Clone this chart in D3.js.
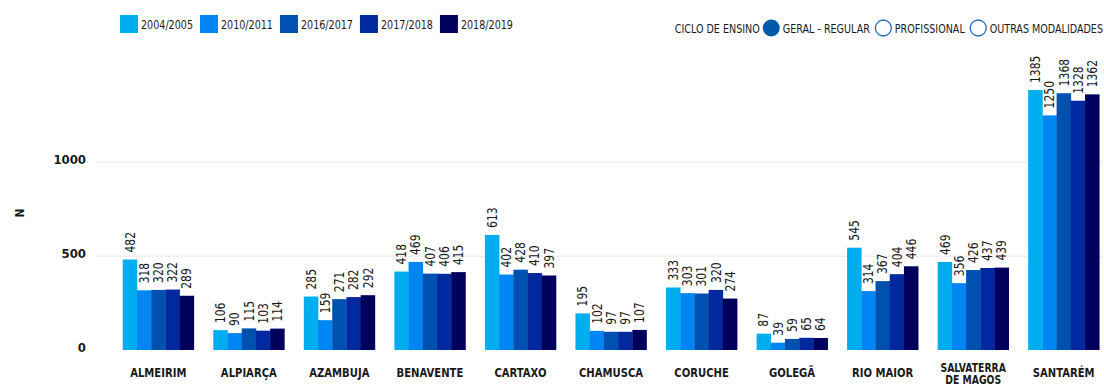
<!DOCTYPE html>
<html>
<head>
<meta charset="utf-8">
<script src="https://cdn.jsdelivr.net/npm/d3@7/dist/d3.min.js"></script>
<style>
  html, body { margin: 0; padding: 0; background: #fff; }
  svg { display: block; }
  text { font-family: "DejaVu Sans Condensed", "DejaVu Sans", sans-serif; fill: #1a1a1a; }
</style>
</head>
<body>
<svg id="chart" width="1104" height="387"></svg>
<script>
// Students enrolled by municipality, five school years
const categories = ["ALMEIRIM", "ALPIARÇA", "AZAMBUJA", "BENAVENTE", "CARTAXO", "CHAMUSCA",
  "CORUCHE", "GOLEGÃ", "RIO MAIOR", "SALVATERRA DE MAGOS", "SANTARÉM"];
const years = ["2004/2005", "2010/2011", "2016/2017", "2017/2018", "2018/2019"];
const v2004 = [482, 106, 285, 418, 613, 195, 333, 87, 545, 469, 1385];
const v2010 = [318, 90, 159, 469, 402, 102, 303, 39, 314, 356, 1250];
const v2016 = [320, 115, 271, 407, 428, 97, 301, 59, 367, 426, 1368];
const v2017 = [322, 103, 282, 406, 410, 97, 320, 65, 404, 437, 1328];
const v2018 = [289, 114, 292, 415, 397, 107, 274, 64, 446, 439, 1362];
const yTicks = [0, 500, 1000];
const cycleLabel = "CICLO DE ENSINO";
const cycles = ["GERAL - REGULAR", "PROFISSIONAL", "OUTRAS MODALIDADES"];

const seriesValues = [v2004, v2010, v2016, v2017, v2018];
const colors = ["#00aeef", "#0086f2", "#0050b0", "#00289f", "#00005c"];

const svg = d3.select("#chart");

const x0 = d3.scaleBand().domain(categories).range([113, 1109])
  .paddingInner(0.215).paddingOuter(0.1075);
const x1 = d3.scaleBand().domain(years).range([0, x0.bandwidth()]);
const y = d3.scaleLinear().domain([0, 1000]).range([350, 162.3]);
const color = d3.scaleOrdinal().domain(years).range(colors);

// horizontally condensed text placed at (x, y)
function condensed(parent, x, yPos, sx, size, weight, anchor) {
  return parent.append("text")
    .attr("transform", `translate(${x},${yPos}) scale(${sx},1)`)
    .attr("text-anchor", anchor || "start").attr("dy", "0.35em")
    .style("font-size", size + "px").style("font-weight", weight || "normal");
}

// faint dotted gridlines
svg.append("g").selectAll("line").data(yTicks.filter(d => d > 0)).join("line")
  .attr("x1", 96).attr("x2", 1104)
  .attr("y1", d => y(d)).attr("y2", d => y(d))
  .attr("stroke", "#ececec").attr("stroke-width", 1.5).attr("stroke-dasharray", "3,1");

// y axis tick labels
const yAxis = svg.append("g").attr("transform", "translate(86,-2.5)")
  .call(d3.axisLeft(y).tickValues(yTicks).tickSize(0).tickPadding(0).tickFormat(d3.format("d")));
yAxis.select(".domain").remove();
yAxis.selectAll("text").style("font-size", "13px").style("font-weight", "bold")
  .style("font-family", "'DejaVu Sans Condensed','DejaVu Sans',sans-serif").attr("fill", "#1a1a1a");

svg.append("text").attr("transform", "translate(20,213) rotate(-90)")
  .attr("text-anchor", "middle").attr("dy", "0.35em")
  .style("font-size", "12px").style("font-weight", "bold").text("N");

// bars
const rows = categories.map((c, i) => ({ cat: c, vals: years.map((yr, k) => ({ year: yr, value: seriesValues[k][i] })) }));
const groups = svg.append("g").selectAll("g").data(rows).join("g")
  .attr("transform", d => `translate(${x0(d.cat)},0)`);

groups.selectAll("rect").data(d => d.vals).join("rect")
  .attr("x", d => x1(d.year)).attr("width", x1.bandwidth() + 0.3)
  .attr("y", d => y(d.value)).attr("height", d => y(0) - y(d.value))
  .attr("fill", d => color(d.year));

// value labels, vertical
groups.selectAll("text.val").data(d => d.vals).join("text").attr("class", "val")
  .attr("transform", d => `translate(${x1(d.year) + x1.bandwidth() / 2},${y(d.value) - 7}) rotate(-90) scale(0.92,1.05)`)
  .attr("dy", "0.35em").attr("text-anchor", "start")
  .style("font-size", "13px").text(d => d.value);

// category labels, wrapped to two lines when too wide
const catG = svg.append("g");
categories.forEach(d => {
  const cx = x0(d) + x0.bandwidth() / 2;
  const probe = condensed(catG, cx, 0, 0.86, 13, "bold", "middle").text(d);
  const tooWide = probe.node().getComputedTextLength() * 0.86 > 90;
  probe.remove();
  if (!tooWide) {
    condensed(catG, cx, 372, 0.86, 13, "bold", "middle").text(d);
  } else {
    const words = d.split(" ");
    const first = words[0], rest = words.slice(1).join(" ");
    condensed(catG, cx, 367.5, 0.86, 12, "bold", "middle").text(first);
    condensed(catG, cx, 379.5, 0.86, 12, "bold", "middle").text(rest);
  }
});

// year legend
const legL = svg.append("g");
const sxL = 0.82;
let lx = 120;
years.forEach(yr => {
  legL.append("rect").attr("x", lx).attr("y", 15).attr("width", 18).attr("height", 18).attr("fill", color(yr));
  const t = condensed(legL, lx + 21, 24.5, sxL, 13).text(yr);
  lx += 21 + t.node().getComputedTextLength() * sxL + 7;
});

// teaching cycle legend, right aligned
const legR = svg.append("g");
const sxR = 0.82;
const items = [cycleLabel].concat(cycles);
const widths = items.map(s => {
  const p = condensed(legR, 0, 0, sxR, 13).text(s);
  const w = p.node().getComputedTextLength() * sxR;
  p.remove();
  return w;
});
const total = widths.reduce((a, b) => a + b, 0) + cycles.length * (3 + 17 + 3) + (cycles.length - 1) * 2;
let rx = 1103 - total;
condensed(legR, rx, 28, sxR, 13).text(cycleLabel);
rx += widths[0] + 3;
cycles.forEach((c, i) => {
  legR.append("circle").attr("cx", rx + 8.5).attr("cy", 28).attr("r", i === 0 ? 8.5 : 8)
    .attr("fill", i === 0 ? "#0058a8" : "#fff")
    .attr("stroke", i === 0 ? "none" : "#1c6cc0").attr("stroke-width", 1.3);
  rx += 17 + 3;
  condensed(legR, rx, 28, sxR, 13).text(c);
  rx += widths[i + 1] + 5;
});
</script>
</body>
</html>
